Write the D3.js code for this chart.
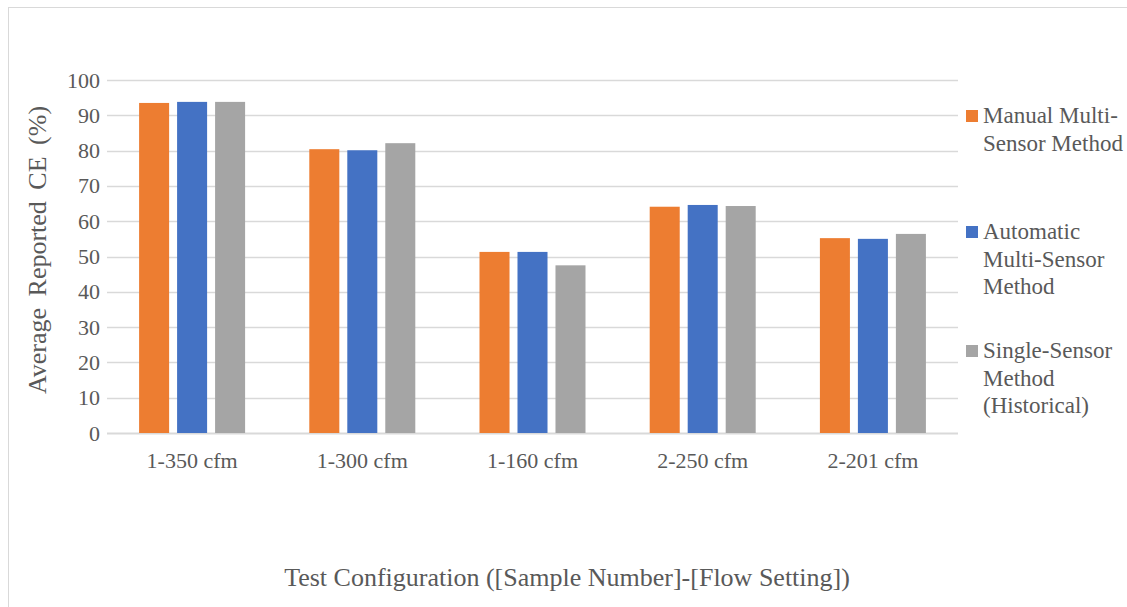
<!DOCTYPE html>
<html>
<head>
<meta charset="utf-8">
<script src="https://cdn.jsdelivr.net/npm/d3@7"></script>
<style>
  body { margin: 0; background: #fff; }
</style>
</head>
<body>
<div id="chart"></div>
<script>
// chart data
var categories = ["1-350 cfm", "1-300 cfm", "1-160 cfm", "2-250 cfm", "2-201 cfm"];
var seriesNames = ["Manual Multi-Sensor Method", "Automatic Multi-Sensor Method", "Single-Sensor Method (Historical)"];
var manualValues = [93.5, 80.4, 51.3, 64.1, 55.2];
var automaticValues = [93.8, 80.1, 51.3, 64.6, 55.0];
var singleValues = [93.8, 82.1, 47.5, 64.3, 56.4];
var yTicks = [0, 10, 20, 30, 40, 50, 60, 70, 80, 90, 100];
var legendLines = [["Manual Multi-", "Sensor Method"], ["Automatic", "Multi-Sensor", "Method"], ["Single-Sensor", "Method", "(Historical)"]];

var colors = ["#ED7D31", "#4472C4", "#A5A5A5"];
var allValues = [manualValues, automaticValues, singleValues];
var serif = "'Liberation Serif'";

var svgWidth = 1127, svgHeight = 607;
var margin = { top: 80, right: 169, bottom: 174, left: 107 };
var width = svgWidth - margin.left - margin.right;
var height = svgHeight - margin.top - margin.bottom;

var svg = d3.select("#chart")
  .append("svg")
  .attr("width", svgWidth)
  .attr("height", svgHeight);

// outer chart border
svg.append("rect")
  .attr("x", 8.5)
  .attr("y", 7.5)
  .attr("width", 1200)
  .attr("height", 700)
  .attr("fill", "none")
  .attr("stroke", "#D9D9D9");

var g = svg.append("g")
  .attr("transform", "translate(" + margin.left + "," + margin.top + ")");

var x = d3.scaleBand().domain(categories).range([0, width]).paddingInner(0).paddingOuter(0);
var x1 = d3.scaleBand().domain(d3.range(3)).range([x.bandwidth() / 2 - 53, x.bandwidth() / 2 + 53]).paddingInner(0.21).paddingOuter(0);
var y = d3.scaleLinear().domain([0, 100]).range([height, 0]);

// gridlines
g.selectAll("line.grid")
  .data(yTicks)
  .enter().append("line")
  .attr("class", "grid")
  .attr("x1", 0)
  .attr("x2", width)
  .attr("y1", function(d) { return Math.round(y(d)) + 0.5; })
  .attr("y2", function(d) { return Math.round(y(d)) + 0.5; })
  .attr("stroke", "#D9D9D9")
  .attr("stroke-width", function(d) { return d === 0 ? 2 : 1.5; });

// y tick labels
g.selectAll("text.ytick")
  .data(yTicks)
  .enter().append("text")
  .attr("class", "ytick")
  .attr("x", -7)
  .attr("y", function(d) { return y(d) + 7.5; })
  .attr("text-anchor", "end")
  .attr("fill", "#595959")
  .attr("font-family", serif)
  .attr("font-size", 22)
  .text(function(d) { return d; });

// bars
var groups = g.selectAll("g.cat")
  .data(categories)
  .enter().append("g")
  .attr("class", "cat")
  .attr("transform", function(d) { return "translate(" + x(d) + ",0)"; });

groups.selectAll("rect")
  .data(function(d, i) { return allValues.map(function(vals, s) { return { s: s, v: vals[i] }; }); })
  .enter().append("rect")
  .attr("x", function(d) { return x1(d.s); })
  .attr("width", x1.bandwidth())
  .attr("y", function(d) { return y(d.v); })
  .attr("height", function(d) { return height - y(d.v); })
  .attr("fill", function(d) { return colors[d.s]; });

// x labels
g.selectAll("text.xtick")
  .data(categories)
  .enter().append("text")
  .attr("class", "xtick")
  .attr("x", function(d) { return x(d) + x.bandwidth() / 2; })
  .attr("y", height + 35)
  .attr("text-anchor", "middle")
  .attr("fill", "#595959")
  .attr("font-family", serif)
  .attr("font-size", 22)
  .text(function(d) { return d; });

// axis titles
svg.append("text")
  .attr("x", 567)
  .attr("y", 586)
  .attr("text-anchor", "middle")
  .attr("fill", "#595959")
  .attr("font-family", serif)
  .attr("font-size", 26)
  .text("Test Configuration ([Sample Number]-[Flow Setting])");

svg.append("text")
  .attr("transform", "translate(46,250) rotate(-90)")
  .attr("text-anchor", "middle")
  .attr("fill", "#595959")
  .attr("font-family", serif)
  .attr("font-size", 26)
  .attr("word-spacing", 5)
  .text("Average Reported CE (%)");

// legend
var legendTop = [123, 239, 358];
legendLines.forEach(function(lines, i) {
  var lg = svg.append("g").attr("class", "legend" + i);
  lg.append("rect")
    .attr("x", 966)
    .attr("y", legendTop[i] - 13)
    .attr("width", 12)
    .attr("height", 12)
    .attr("fill", colors[i]);
  lines.forEach(function(t, j) {
    lg.append("text")
      .attr("x", 983)
      .attr("y", legendTop[i] + j * 27.5)
      .attr("fill", "#595959")
      .attr("font-family", serif)
      .attr("font-size", 23)
      .text(t);
  });
});
</script>
</body>
</html>
